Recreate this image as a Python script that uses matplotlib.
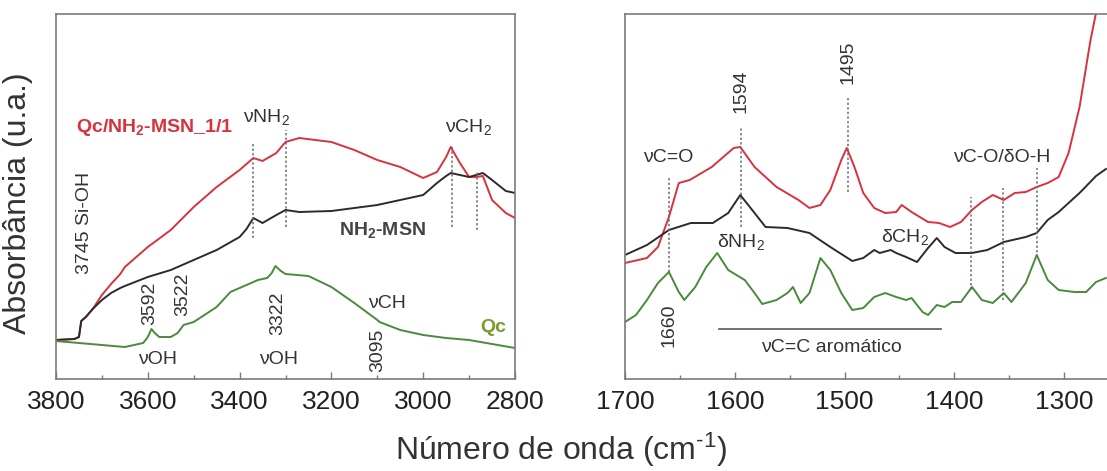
import numpy as np
import matplotlib
matplotlib.use("Agg")
import matplotlib.pyplot as plt

plt.rcParams['font.family'] = ['Liberation Sans', 'DejaVu Sans']
plt.rcParams['mathtext.fontset'] = 'custom'
plt.rcParams['mathtext.rm'] = 'Liberation Sans'
plt.rcParams['mathtext.it'] = 'Liberation Sans:italic'
plt.rcParams['mathtext.bf'] = 'Liberation Sans:bold'

# --- high wavenumber region (3800-2800 cm-1) ---
wn_hi = [3800, 3760, 3750, 3745, 3735, 3720, 3700, 3680, 3660, 3650, 3600, 3550, 3500,
         3450, 3400, 3385, 3370, 3350, 3320, 3300, 3270, 3200, 3150, 3100, 3050,
         3000, 2970, 2950, 2940, 2920, 2900, 2885, 2870, 2850, 2820, 2800]
qc_msn_hi = [39, 40, 42, 58, 62, 70, 84, 95, 105, 112, 132, 149, 172,
             192, 209, 215, 221, 218, 226, 237, 241, 237, 229, 219, 212,
             201, 207, 222, 232, 216, 202, 202, 203, 179, 166, 161]
msn_hi = [39, 40, 42, 58, 62, 70, 79, 86, 91, 93, 102, 109, 119,
          129, 142, 150, 161, 156, 164, 169, 167, 168, 171, 174, 179,
          184, 196, 203, 206, 204, 202, 204, 206, 199, 188, 186]

wn_qc_hi = [3800, 3750, 3700, 3650, 3610, 3600, 3592, 3585, 3575, 3550, 3535, 3522, 3500,
            3450, 3420, 3400, 3360, 3340, 3330, 3322, 3310, 3300, 3250, 3200, 3150,
            3100, 3095, 3050, 3000, 2950, 2900, 2850, 2800]
qc_hi = [38, 36, 34, 32, 36, 42, 50, 46, 42, 42, 46, 54, 57,
         72, 87, 91, 99, 101, 106, 113, 108, 105, 103, 92, 76,
         59, 57, 49, 44, 41, 39, 35, 31]

# --- fingerprint region (1700-1260 cm-1) ---
wn_lo = [1700, 1680, 1670, 1660, 1651, 1641, 1621, 1601, 1595, 1582, 1562, 1542, 1532,
         1522, 1513, 1503, 1498, 1491, 1483, 1473, 1463, 1453, 1448, 1439, 1424,
         1414, 1404, 1394, 1384, 1375, 1365, 1355, 1345, 1335, 1325, 1315, 1305,
         1296, 1286, 1276, 1271, 1262]
qc_msn_lo = [116, 121, 132, 162, 196, 199, 212, 231, 232, 212, 192, 179, 171,
             174, 189, 219, 231, 212, 186, 171, 166, 167, 174, 167, 157,
             156, 152, 157, 169, 177, 184, 179, 186, 187, 192, 196, 202,
             226, 272, 339, 366, 420]

wn_msn_lo = [1700, 1680, 1660, 1640, 1620, 1606, 1595, 1582, 1572, 1552, 1532, 1513, 1493,
             1483, 1473, 1468, 1458, 1453, 1444, 1434, 1424, 1416, 1409, 1399, 1384,
             1370, 1355, 1335, 1325, 1315, 1305, 1286, 1271, 1262]
msn_lo = [124, 134, 149, 156, 156, 166, 184, 166, 152, 151, 146, 132, 118,
          121, 129, 126, 129, 126, 122, 117, 131, 141, 132, 126, 126,
          129, 137, 142, 146, 159, 167, 186, 203, 210]

wn_qc_lo = [1700, 1690, 1680, 1670, 1660, 1651, 1646, 1636, 1626, 1616, 1606, 1591, 1582,
            1575, 1562, 1552, 1547, 1540, 1532, 1522, 1513, 1503, 1493, 1483, 1473,
            1463, 1453, 1444, 1439, 1429, 1424, 1416, 1409, 1402, 1394, 1384, 1375,
            1365, 1355, 1348, 1335, 1325, 1315, 1305, 1291, 1280, 1271, 1262]
qc_lo = [57, 64, 79, 96, 107, 87, 79, 92, 112, 126, 109, 99, 86,
         75, 79, 86, 92, 76, 86, 121, 109, 86, 69, 71, 82,
         86, 82, 79, 81, 67, 64, 74, 72, 77, 77, 92, 79,
         76, 86, 77, 96, 124, 99, 89, 87, 87, 97, 101]

red = '#d8323c'
dark = '#2b2b2b'
green = '#4a8a3c'
frame = '#7a7a7a'
dot = '#6a6a6a'

fig = plt.figure(figsize=(11.07, 4.71), dpi=100)
ax1 = fig.add_axes([56 / 1107, 92 / 471, 459 / 1107, 365 / 471])
ax2 = fig.add_axes([625 / 1107, 92 / 471, 482 / 1107, 365 / 471])

lw = 1.4
ax1.plot(wn_hi, qc_msn_hi, color=red, lw=lw)
ax1.plot(wn_hi, msn_hi, color=dark, lw=lw)
ax1.plot(wn_qc_hi, qc_hi, color=green, lw=lw)

ax2.plot(wn_lo, qc_msn_lo, color=red, lw=lw)
ax2.plot(wn_msn_lo, msn_lo, color=dark, lw=lw)
ax2.plot(wn_qc_lo, qc_lo, color=green, lw=lw)

ax1.set_xlim(3800, 2800)
ax2.set_xlim(1700, 1261)
for ax in (ax1, ax2):
    ax.set_ylim(0, 365)
    ax.set_yticks([])
    for s in ax.spines.values():
        s.set_color(frame)
        s.set_linewidth(1.2)
    ax.tick_params(axis='x', which='both', direction='in', colors=frame,
                   labelcolor='#222222', labelsize=19, pad=8)
    ax.tick_params(axis='x', which='major', length=5, width=1)
    ax.tick_params(axis='x', which='minor', length=3, width=1)
ax2.spines['right'].set_visible(False)

ax1.set_xticks([3800, 3600, 3400, 3200, 3000, 2800])
ax1.set_xticks([3700, 3500, 3300, 3100, 2900], minor=True)
ax2.set_xticks([1700, 1600, 1500, 1400, 1300])
ax2.set_xticks([1650, 1550, 1450, 1350], minor=True)

# peak markers
dot_kw = dict(color=dot, ls=(0, (1.5, 1.5)), lw=1.1)
for x, y0, y1 in [(3370, 141, 236), (3300, 152, 249), (2938, 152, 234), (2882, 149, 207)]:
    ax1.plot([x, x], [y0, y1], **dot_kw)
for x, y0, y1 in [(1660, 107, 202), (1594, 152, 252), (1497, 187, 282),
                  (1385, 89, 182), (1356, 79, 191), (1325, 122, 211)]:
    ax2.plot([x, x], [y0, y1], **dot_kw)
ax2.plot([1614, 1412], [50, 50], color='#666666', lw=1.3)

fs = 14
tc = '#333333'
ax1.text(3586, 252, r'Qc/NH$_\mathbf{2}$-MSN_1/1', color=red, fontsize=fs,
         fontweight='bold', ha='center', va='center')
ax1.text(3088, 149, r'NH$_\mathbf{2}$-MSN', color='#444444', fontsize=fs,
         fontweight='bold', ha='center', va='center')
ax1.text(2848, 51, 'Qc', color='#7a9a30', fontsize=fs, fontweight='bold',
         ha='center', va='center')
ax1.text(3342, 262, r'νNH$_2$', color=tc, fontsize=fs, ha='center', va='center')
ax1.text(2902, 252, r'νCH$_2$', color=tc, fontsize=fs, ha='center', va='center')
ax1.text(3578, 20, 'νOH', color=tc, fontsize=fs, ha='center', va='center')
ax1.text(3316, 20, 'νOH', color=tc, fontsize=fs, ha='center', va='center')
ax1.text(3079, 76, 'νCH', color=tc, fontsize=fs, ha='center', va='center')
for x, y, s in [(3737, 156, '3745 Si-OH'), (3595, 76, '3592'), (3525, 85, '3522'),
                (3318, 66, '3322'), (3098, 29, '3095')]:
    ax1.text(x, y, s, color=tc, fontsize=fs, rotation=90, ha='center', va='center')

ax2.text(1661, 221, 'νC=O', color=tc, fontsize=fs, ha='center', va='center')
ax2.text(1594, 137, r'δNH$_2$', color=tc, fontsize=fs, ha='center', va='center')
ax2.text(1445, 142, r'δCH$_2$', color=tc, fontsize=fs, ha='center', va='center')
ax2.text(1357, 221, 'νC-O/δO-H', color=tc, fontsize=fs, ha='center', va='center')
ax2.text(1512, 32, 'νC=C aromático', color=tc, fontsize=fs, ha='center', va='center')
for x, y, s in [(1660, 54, '1660'), (1594, 288, '1594'), (1497, 317, '1495')]:
    ax2.text(x, y, s, color=tc, fontsize=fs, rotation=90, ha='center', va='center')

fig.text(18 / 1107, 1 - 203 / 471, 'Absorbância (u.a.)', rotation=90,
         fontsize=23, color='#333333', ha='center', va='center')
fig.text(561 / 1107, 1 - 450 / 471, r'Número de onda (cm$^{\text{-1}}$)',
         fontsize=23, color='#333333', ha='center', va='center')

fig.savefig('out.png', dpi=100)
